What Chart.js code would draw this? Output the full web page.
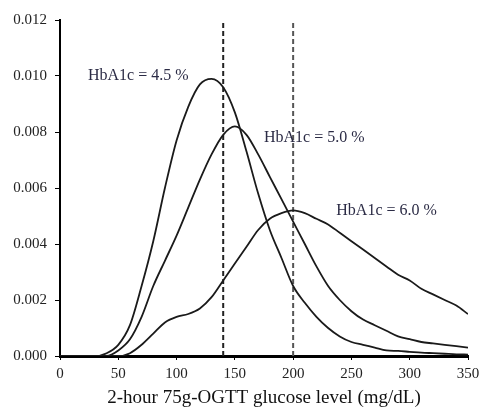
<!DOCTYPE html>
<html lang="en">
<head>
    <meta charset="UTF-8">
    <title>OGTT glucose distribution by HbA1c</title>
    <script type="text/javascript" src="https://cdn.jsdelivr.net/npm/chart.js@4.4.1/dist/chart.umd.min.js"></script>
    <style>
        html, body { margin: 0; padding: 0; background: #fff; }
        #wrap { width: 479px; height: 413px; }
    </style>
</head>
<body>
<div id="wrap"><canvas id="chart"></canvas></div>

<script type="text/javascript">
    var glucose = [0, 30, 40, 50, 60, 70, 80, 90, 100, 110, 120, 130, 140, 150, 160, 170, 180, 190, 200,
        210, 220, 230, 240, 250, 260, 270, 280, 290, 300, 310, 320, 330, 340, 350];
    var hba1c45 = [0, 0, 0.0001, 0.0004, 0.0011, 0.0025, 0.0041, 0.0060, 0.0077, 0.0089, 0.0097, 0.0099, 0.0096, 0.0087,
        0.0073, 0.0058, 0.0045, 0.0035, 0.0025, 0.0019, 0.0014, 0.0010, 0.0007, 0.0005, 0.0004, 0.0003, 0.0002,
        0.00018, 0.00015, 0.00012, 0.0001, 0.00008, 0.00006, 0.00005];
    var hba1c50 = [0, 0, 0, 0.0002, 0.0006, 0.0014, 0.0025, 0.0034, 0.0043, 0.0053, 0.0063, 0.0072, 0.0079, 0.0082,
        0.0079, 0.0072, 0.0064, 0.0056, 0.0048, 0.0040, 0.0032, 0.0025, 0.0020, 0.0016, 0.0013, 0.0011, 0.0009,
        0.0007, 0.0006, 0.0005, 0.00045, 0.0004, 0.00035, 0.0003];
    var hba1c60 = [0, 0, 0, 0, 0.0001, 0.0004, 0.0008, 0.0012, 0.0014, 0.0015, 0.0017, 0.0021, 0.0027, 0.0033,
        0.0039, 0.0045, 0.0049, 0.0051, 0.0052, 0.0051, 0.0049, 0.0047, 0.0044, 0.0041, 0.0038, 0.0035, 0.0032,
        0.0029, 0.0027, 0.0024, 0.0022, 0.0020, 0.0018, 0.0015];

    // dashed cut-off lines
    var cutoffs = [140, 200];
    var cutoffTop = 0.0119;

    // curve labels
    var labelText = ['HbA1c = 4.5 %', 'HbA1c = 5.0 %', 'HbA1c = 6.0 %'];
    var labelX = [24, 175, 237];
    var labelY = [0.0100, 0.0078, 0.0052];

    var yTicks = [0, 0.002, 0.004, 0.006, 0.008, 0.010, 0.012];
    var xTicks = [0, 50, 100, 150, 200, 250, 300, 350];

    function toPoints(xs, ys) {
        var pts = [];
        for (var i = 0; i < xs.length; i++) {
            pts.push({x: xs[i], y: ys[i]});
        }
        return pts;
    }

    function curve(label, ys) {
        return {
            label: label,
            data: toPoints(glucose, ys),
            borderColor: '#1a1a1a',
            borderWidth: 1.8,
            pointRadius: 0,
            fill: false,
            cubicInterpolationMode: 'monotone'
        };
    }

    var datasets = [
        curve('HbA1c 4.5%', hba1c45),
        curve('HbA1c 5.0%', hba1c50),
        curve('HbA1c 6.0%', hba1c60)
    ];
    cutoffs.forEach(function (c, i) {
        datasets.push({
            label: 'cutoff ' + c,
            data: [{x: c, y: 0}, {x: c, y: cutoffTop}],
            borderColor: i === 0 ? '#222' : '#555',
            borderWidth: 2,
            borderDash: [5, 3],
            pointRadius: 0,
            fill: false
        });
    });

    var labelPlugin = {
        id: 'curveLabels',
        afterDatasetsDraw: function (chart) {
            var ctx = chart.ctx;
            var xs = chart.scales.x, ys = chart.scales.y;
            ctx.save();
            ctx.font = '16px "Liberation Serif", serif';
            ctx.fillStyle = '#2b2b45';
            ctx.textAlign = 'left';
            ctx.textBaseline = 'middle';
            for (var i = 0; i < labelText.length; i++) {
                ctx.fillText(labelText[i], xs.getPixelForValue(labelX[i]), ys.getPixelForValue(labelY[i]));
            }
            ctx.restore();
        }
    };

    new Chart(document.getElementById('chart').getContext('2d'), {
        type: 'line',
        data: {datasets: datasets},
        plugins: [labelPlugin],
        options: {
            responsive: true,
            maintainAspectRatio: false,
            animation: false,
            layout: {padding: {top: 20, right: 11, left: 0, bottom: 4}},
            plugins: {legend: {display: false}, tooltip: {enabled: false}},
            scales: {
                x: {
                    type: 'linear',
                    min: 0,
                    max: 350,
                    afterBuildTicks: function (scale) {
                        scale.ticks = xTicks.map(function (v) { return {value: v}; });
                    },
                    ticks: {
                        color: '#222',
                        font: {family: '"Liberation Serif", serif', size: 15},
                        padding: 5,
                        maxRotation: 0
                    },
                    grid: {drawOnChartArea: false, drawTicks: true, tickLength: 4, color: '#000'},
                    border: {color: '#000', width: 3},
                    title: {
                        display: true,
                        text: '2-hour 75g-OGTT glucose level (mg/dL)',
                        color: '#111',
                        font: {family: '"Liberation Serif", serif', size: 19},
                        padding: {top: 3, bottom: 0}
                    },
                    afterFit: function (scale) {
                        scale.height = 53;
                        scale.paddingLeft = 0;
                        scale.paddingRight = 0;
                    }
                },
                y: {
                    type: 'linear',
                    min: 0,
                    max: 0.012,
                    afterBuildTicks: function (scale) {
                        scale.ticks = yTicks.map(function (v) { return {value: v}; });
                    },
                    ticks: {
                        color: '#222',
                        font: {family: '"Liberation Serif", serif', size: 15},
                        padding: 8,
                        callback: function (v) { return Number(v).toFixed(3); }
                    },
                    grid: {drawOnChartArea: false, drawTicks: true, tickLength: 5, color: '#000'},
                    border: {color: '#000', width: 2},
                    afterFit: function (scale) {
                        scale.width = 60;
                        scale.paddingTop = 0;
                        scale.paddingBottom = 0;
                    }
                }
            }
        }
    });
</script>
</body>
</html>
